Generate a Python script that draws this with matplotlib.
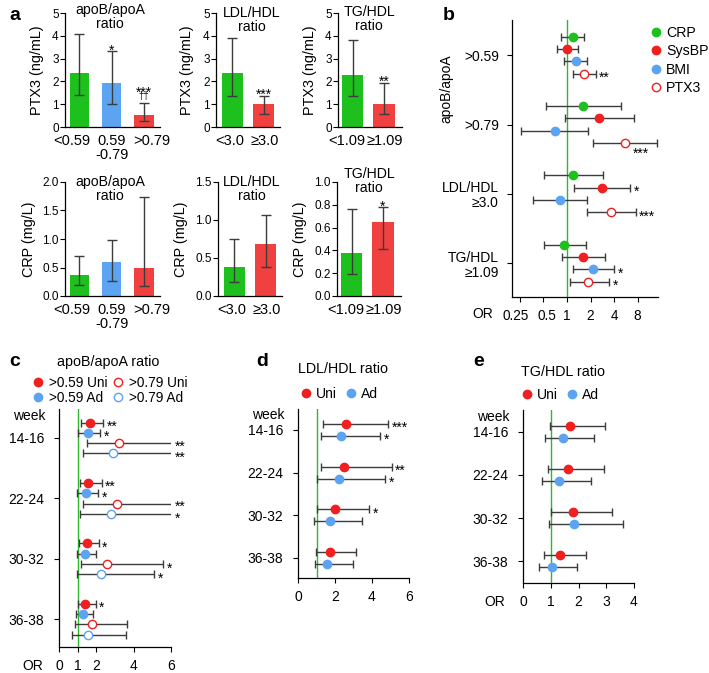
import numpy as np
import matplotlib

matplotlib.use("Agg")
import matplotlib.pyplot as plt
from matplotlib.lines import Line2D
from matplotlib.ticker import FormatStrFormatter

plt.rcParams['font.family'] = ['Liberation Sans', 'DejaVu Sans']
plt.rcParams['font.size'] = 10
plt.rcParams['axes.linewidth'] = 0.9

W, H = 709, 673
GREEN = '#1ec01e'
RED = '#f02020'
BLUE = '#5ca4f2'
BAR_RED = '#f04040'
ERR = '#3c3c3c'

# ---------------- panel a data ----------------
apob_cats = ['<0.59', '0.59\n-0.79', '>0.79']
ldl_cats = ['<3.0', '≥3.0']
tg_cats = ['<1.09', '≥1.09']

ptx3_apob = [2.37, 1.93, 0.53]
ptx3_apob_lo = [1.40, 1.03, 0.28]
ptx3_apob_hi = [4.10, 3.32, 1.05]
ptx3_apob_stars = ['', '*', '***']
ptx3_apob_dag = ['', '', '††']

ptx3_ldl = [2.35, 1.03]
ptx3_ldl_lo = [1.37, 0.58]
ptx3_ldl_hi = [3.90, 1.38]
ptx3_ldl_stars = ['', '***']

ptx3_tg = [2.27, 1.00]
ptx3_tg_lo = [1.35, 0.57]
ptx3_tg_hi = [3.83, 1.95]
ptx3_tg_stars = ['', '**']

crp_apob = [0.36, 0.60, 0.50]
crp_apob_lo = [0.19, 0.27, 0.17]
crp_apob_hi = [0.71, 0.99, 1.74]

crp_ldl = [0.38, 0.68]
crp_ldl_lo = [0.19, 0.38]
crp_ldl_hi = [0.75, 1.07]

crp_tg = [0.38, 0.65]
crp_tg_lo = [0.19, 0.41]
crp_tg_hi = [0.76, 0.78]
crp_tg_stars = ['', '*']

# ---------------- panel b data ----------------
b_groups = ['>0.59', '>0.79', 'LDL/HDL\n≥3.0', 'TG/HDL\n≥1.09']
b_series = ['CRP', 'SysBP', 'BMI', 'PTX3']
b_ticks = [0.25, 0.5, 1, 2, 4, 8]
b_ticklabels = ['0.25', '0.5', '1', '2', '4', '8']
b_or = {'CRP': [1.18, 1.62, 1.20, 0.92], 'SysBP': [1.00, 2.59, 2.78, 1.62],
        'BMI': [1.29, 0.70, 0.81, 2.17], 'PTX3': [1.65, 5.48, 3.66, 1.87]}
b_lo = {'CRP': [0.83, 0.54, 0.51, 0.51], 'SysBP': [0.74, 0.94, 1.23, 0.86],
        'BMI': [0.92, 0.26, 0.37, 1.20], 'PTX3': [1.20, 2.17, 1.79, 1.09]}
b_hi = {'CRP': [1.67, 4.96, 2.92, 1.74], 'SysBP': [1.40, 7.15, 6.40, 3.09],
        'BMI': [1.80, 1.84, 1.79, 4.04], 'PTX3': [2.33, 14.1, 7.58, 3.45]}
b_stars = {'CRP': ['', '', '', ''], 'SysBP': ['', '', '*', ''],
           'BMI': ['', '', '', '*'], 'PTX3': ['**', '***', '***', '*']}

# ---------------- panels c-e data ----------------
weeks = ['14-16', '22-24', '30-32', '36-38']

c_names = ['>0.59 Uni', '>0.59 Ad', '>0.79 Uni', '>0.79 Ad']
c_or = [[1.65, 1.58, 1.51, 1.40], [1.53, 1.45, 1.40, 1.29],
        [3.23, 3.11, 2.55, 1.76], [2.87, 2.76, 2.24, 1.58]]
c_lo = [[1.17, 1.11, 1.06, 1.02], [1.04, 0.99, 0.99, 0.93],
        [1.51, 1.27, 1.17, 0.84], [1.29, 1.13, 0.99, 0.72]]
c_hi = [[2.37, 2.28, 2.12, 1.96], [2.19, 2.10, 1.97, 1.80],
        [6.9, 6.9, 5.57, 3.66], [6.9, 6.9, 5.10, 3.59]]
c_stars = [['**', '**', '*', '*'], ['*', '*', '', ''],
           ['**', '**', '*', ''], ['**', '*', '*', '']]

d_or = [[2.59, 2.50, 2.01, 1.72], [2.31, 2.22, 1.75, 1.57]]
d_lo = [[1.34, 1.23, 1.05, 0.96], [1.23, 1.05, 0.87, 0.92]]
d_hi = [[4.86, 5.06, 3.85, 3.13], [4.43, 4.72, 3.45, 2.98]]
d_stars = [['***', '**', '*', ''], ['*', '*', '', '']]

e_or = [[1.68, 1.61, 1.79, 1.32], [1.43, 1.30, 1.84, 1.05]]
e_lo = [[0.96, 0.90, 1.00, 0.77], [0.79, 0.67, 0.92, 0.59]]
e_hi = [[2.97, 2.93, 3.20, 2.27], [2.55, 2.46, 3.62, 1.93]]

fig = plt.figure(figsize=(W / 100, H / 100), dpi=100)


def px_axes(l, t, r, b):
    return fig.add_axes([l / W, 1 - b / H, (r - l) / W, (b - t) / H])


def ftext(x, y, s, **kw):
    fig.text(x / W, 1 - y / H, s, **kw)


def clean(ax):
    ax.spines['top'].set_visible(False)
    ax.spines['right'].set_visible(False)


def xlabels(ax, xs, labels, shifts_px, pad_pt, **kw):
    # tick labels drawn as annotations so each can be nudged sideways
    ax.set_xticklabels([])
    for xv, s, dx in zip(xs, labels, shifts_px):
        ax.annotate(s, (xv, 0), xycoords=ax.get_xaxis_transform(),
                    xytext=(dx * 0.72, -pad_pt), textcoords='offset points',
                    ha='center', va='top', annotation_clip=False, **kw)


def bar_panel(rect, cats, vals, lo, hi, colors, ylim, yticks, fmt, ylabel,
              label_x, xlim, width, shifts, stars=None, dags=None):
    ax = px_axes(*rect)
    clean(ax)
    vals, lo, hi = map(np.asarray, (vals, lo, hi))
    x = np.arange(len(cats))
    ax.bar(x, vals, width=width, color=colors, zorder=1)
    ax.errorbar(x, vals, yerr=[vals - lo, hi - vals], fmt='none', ecolor=ERR,
                elinewidth=1, capsize=3.5, capthick=1, zorder=2)
    ax.set_xlim(*xlim)
    ax.set_ylim(*ylim)
    ax.set_yticks(yticks)
    ax.yaxis.set_major_formatter(FormatStrFormatter(fmt))
    ax.set_xticks(x)
    ax.tick_params(axis='x', length=0)
    xlabels(ax, x, cats, shifts, 5.2, fontsize=10.5, linespacing=0.95)
    ax.tick_params(axis='y', length=3.5, pad=1, labelsize=8.5)
    ax.set_ylabel(ylabel, fontsize=10.4)
    ax.yaxis.set_label_coords(label_x, 0.5)
    for i in range(len(cats)):
        dag = dags[i] if dags else ''
        s = stars[i] if stars else ''
        if dag:
            ax.annotate(dag, (x[i], hi[i]), xytext=(0, 2.9), textcoords='offset points',
                        ha='center', va='baseline', fontsize=7)
            if s:
                ax.annotate(s, (x[i], hi[i]), xytext=(0, 4.3), textcoords='offset points',
                            ha='center', va='baseline', fontsize=10)
        elif s:
            ax.annotate(s, (x[i], hi[i]), xytext=(0, -2.5), textcoords='offset points',
                        ha='center', va='baseline', fontsize=10)
    return ax


# ---------------- panel a ----------------
bar_panel((65, 13, 160, 127), apob_cats, ptx3_apob, ptx3_apob_lo, ptx3_apob_hi,
          [GREEN, BLUE, BAR_RED], (0, 5), range(6), '%d', 'PTX3 (ng/mL)', -0.226,
          (-0.45, 2.5), 0.6, [-8, 0, 8], ptx3_apob_stars, ptx3_apob_dag)
bar_panel((216, 13, 280, 127), ldl_cats, ptx3_ldl, ptx3_ldl_lo, ptx3_ldl_hi,
          [GREEN, BAR_RED], (0, 5), range(6), '%d', 'PTX3 (ng/mL)', -0.336,
          (-0.53, 1.53), 0.68, [-3, 1], ptx3_ldl_stars)
bar_panel((338, 13, 402, 127), tg_cats, ptx3_tg, ptx3_tg_lo, ptx3_tg_hi,
          [GREEN, BAR_RED], (0, 5), range(6), '%d', 'PTX3 (ng/mL)', -0.33,
          (-0.48, 1.58), 0.68, [-6, 1], ptx3_tg_stars)
bar_panel((65, 182, 160, 296), apob_cats, crp_apob, crp_apob_lo, crp_apob_hi,
          [GREEN, BLUE, BAR_RED], (0, 2), np.arange(0, 2.01, 0.5), '%.1f', 'CRP (mg/L)',
          -0.30, (-0.45, 2.5), 0.6, [-8, 0, 8])
bar_panel((218, 182, 282, 296), ldl_cats, crp_ldl, crp_ldl_lo, crp_ldl_hi,
          [GREEN, BAR_RED], (0, 1.5), np.arange(0, 1.51, 0.5), '%.1f', 'CRP (mg/L)',
          -0.47, (-0.53, 1.53), 0.68, [-3, 1])
bar_panel((337, 182, 401, 296), tg_cats, crp_tg, crp_tg_lo, crp_tg_hi,
          [GREEN, BAR_RED], (0, 1.0), np.arange(0, 1.01, 0.2), '%.1f', 'CRP (mg/L)',
          -0.47, (-0.48, 1.58), 0.68, [-6, 1], crp_tg_stars)

tkw = dict(ha='center', va='center', linespacing=1.05, fontsize=10.2)
ftext(110, 17, 'apoB/apoA\nratio', **tkw)
ftext(252, 20, 'LDL/HDL\nratio', **tkw)
ftext(369, 19, 'TG/HDL\nratio', **tkw)
ftext(110, 189, 'apoB/apoA\nratio', **tkw)
ftext(252, 189, 'LDL/HDL\nratio', **tkw)
ftext(369, 181, 'TG/HDL\nratio', **tkw)


def star_right(ax, x, y, s, xmax=None):
    xs = min(x, xmax) if xmax is not None else x
    ax.annotate(s, (xs, y), xytext=(2.5, -6), textcoords='offset points',
                ha='left', va='baseline', fontsize=10, annotation_clip=False)


# ---------------- panel b ----------------
axb = px_axes(512, 20, 658, 297)
clean(axb)
axb.set_xscale('log', base=2)
b_colors = {'CRP': GREEN, 'SysBP': RED, 'BMI': BLUE, 'PTX3': RED}
offs_b = np.array([-1.5, -0.5, 0.5, 1.5]) * 0.178
axb.axvline(1, color='#2db82d', lw=1, zorder=0)
handles = []
for k, name in enumerate(b_series):
    o, lo, hi = (np.asarray(d[name]) for d in (b_or, b_lo, b_hi))
    y = np.arange(4) + offs_b[k]
    axb.errorbar(o, y, xerr=[o - lo, hi - o], fmt='none', ecolor=ERR,
                 elinewidth=1, capsize=3.2, capthick=1, zorder=2)
    openm = name == 'PTX3'
    kw = dict(marker='o', ms=6, ls='none', mec=b_colors[name],
              mfc='white' if openm else b_colors[name], mew=1.0)
    axb.plot(o, y, zorder=3, **kw)
    handles.append(Line2D([], [], **kw))
    for g in range(4):
        s = b_stars[name][g]
        if not s:
            continue
        if hi[g] > 12:
            axb.annotate(s, (hi[g], y[g]), xytext=(-11.5, -10.5), textcoords='offset points',
                         ha='center', va='baseline', fontsize=10, annotation_clip=False)
        else:
            star_right(axb, hi[g], y[g], s)
axb.set_xlim(0.198, 14.6)
axb.set_xticks(b_ticks)
axb.minorticks_off()
xlabels(axb, b_ticks, b_ticklabels, [-4, 3, 0, 0, 0, 0], 8.5, fontsize=9.8)
axb.set_ylim(3.49, -0.51)
axb.set_yticks(range(4))
axb.set_yticklabels(b_groups, linespacing=1.1)
axb.tick_params(axis='y', length=3.5, pad=6)
axb.tick_params(axis='x', length=3.5)
axb.legend(handles, b_series, loc='upper left', bbox_to_anchor=(650 / W, 1 - 26 / H),
           bbox_transform=fig.transFigure, frameon=False, borderpad=0, borderaxespad=0,
           handlelength=0.8, handletextpad=0.35, labelspacing=0.3, fontsize=10.2)
ftext(446, 89, 'apoB/apoA', rotation=90, ha='center', va='center')
ftext(483, 314, 'OR', ha='center', va='center')


# ---------------- panels c-e ----------------
def forest(rect, ors, los, his, names, colors, opens, offs, xlim, xticks, stars=None,
           ylim=(3.47, -0.49), week_dy=0.36):
    ax = px_axes(*rect)
    clean(ax)
    ax.axvline(1, color='#2db82d', lw=1, zorder=0)
    handles = []
    clipped = {}
    for k in range(len(ors)):
        o, lo, hi = (np.asarray(d[k]) for d in (ors, los, his))
        y = np.arange(4) + offs[k]
        ax.errorbar(o, y, xerr=[o - lo, hi - o], fmt='none', ecolor=ERR,
                    elinewidth=1, capsize=3, capthick=1, zorder=2)
        kw = dict(marker='o', ms=6, ls='none', mec=colors[k],
                  mfc='white' if opens[k] else colors[k], mew=1.0)
        ax.plot(o, y, zorder=3, **kw)
        handles.append(Line2D([], [], **kw))
        if stars:
            for g in range(4):
                if not stars[k][g]:
                    continue
                if hi[g] > xlim[1]:
                    # whiskers running off the axis: stack their stars in one text
                    clipped.setdefault(g, []).append((y[g], stars[k][g]))
                else:
                    star_right(ax, hi[g], y[g], stars[k][g])
    for g, items in clipped.items():
        ys = [it[0] for it in items]
        ax.annotate('\n'.join(it[1] for it in items), (xlim[1], np.mean(ys)),
                    xytext=(2.5, -3), textcoords='offset points', ha='left',
                    va='center', fontsize=10, linespacing=0.78, annotation_clip=False)
    ax.set_xlim(*xlim)
    ax.set_xticks(xticks)
    ax.set_ylim(*ylim)
    ax.set_yticks(range(4))
    ax.set_yticklabels(weeks)
    ax.tick_params(axis='y', length=3.5, pad=7)
    ax.tick_params(axis='x', length=3.5, pad=5)
    ax.annotate('week', xy=(0, -week_dy), xycoords=ax.get_yaxis_transform(),
                xytext=(-10, 0), textcoords='offset points', ha='right', va='center',
                annotation_clip=False)
    return ax, handles


axc, hc = forest((59, 409, 171, 647), c_or, c_lo, c_hi, c_names,
                 [RED, BLUE, RED, BLUE], [False, False, True, True],
                 np.array([-1.5, -0.5, 0.5, 1.5]) * 0.171, (0, 6), [0, 1, 2, 4, 6],
                 c_stars, ylim=(3.46, -0.48), week_dy=0.36)
axc.legend(hc, c_names, ncol=2, loc='upper left', bbox_to_anchor=(33 / W, 1 - 376 / H),
           bbox_transform=fig.transFigure, frameon=False, borderpad=0, borderaxespad=0,
           handlelength=0.8, handletextpad=0.36, labelspacing=0.05, columnspacing=0.42,
           fontsize=9.8)
ftext(108, 362, 'apoB/apoA ratio', ha='center', va='center', fontsize=10.3)
ftext(33, 666, 'OR', ha='center', va='center')

axd, hd = forest((298, 409, 409, 578), d_or, d_lo, d_hi, ['Uni', 'Ad'],
                 [RED, BLUE], [False, False], np.array([-0.5, 0.5]) * 0.28, (0, 6),
                 [0, 2, 4, 6], d_stars, ylim=(3.47, -0.49), week_dy=0.35)
axd.legend(hd, ['Uni', 'Ad'], ncol=2, loc='upper left', bbox_to_anchor=(300 / W, 1 - 387 / H),
           bbox_transform=fig.transFigure, frameon=False, borderpad=0, borderaxespad=0,
           handlelength=0.8, handletextpad=0.35, columnspacing=0.6)
ftext(343, 369, 'LDL/HDL ratio', ha='center', va='center', fontsize=10.3)

axe, he = forest((523, 410, 634, 583), e_or, e_lo, e_hi, ['Uni', 'Ad'],
                 [RED, BLUE], [False, False], np.array([-0.5, 0.5]) * 0.288, (0, 4),
                 [0, 1, 2, 3, 4], None, ylim=(3.51, -0.51), week_dy=0.35)
axe.legend(he, ['Uni', 'Ad'], ncol=2, loc='upper left', bbox_to_anchor=(521 / W, 1 - 388 / H),
           bbox_transform=fig.transFigure, frameon=False, borderpad=0, borderaxespad=0,
           handlelength=0.8, handletextpad=0.35, columnspacing=0.6)
ftext(563, 372, 'TG/HDL ratio', ha='center', va='center', fontsize=10.3)
ftext(495, 602, 'OR', ha='center', va='center')

# panel letters
for lab, x, y in [('a', 15, 15), ('b', 449, 15), ('c', 15, 362), ('d', 262, 362), ('e', 479, 362)]:
    ftext(x, y, lab, ha='center', va='center', fontsize=14, fontweight='bold')

fig.savefig('out.png', dpi=100)
